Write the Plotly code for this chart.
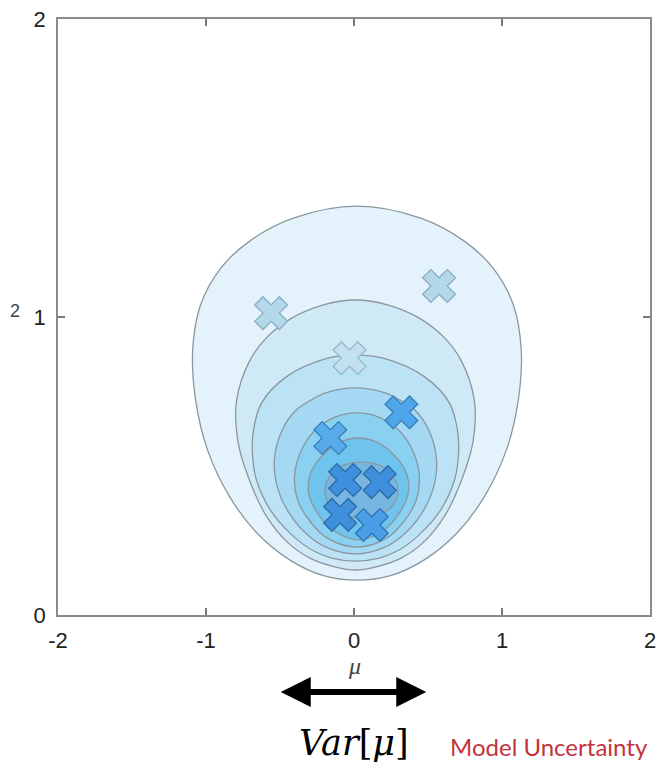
import plotly.graph_objects as go

# ---- contour outlines (mu centre, sigma^2 levels, half-widths) ----
c1_center = 0.02
c1_y  = [1.372, 1.332, 1.258, 1.164, 1.040, 0.889, 0.721, 0.554, 0.399, 0.275, 0.185, 0.131, 0.117]
c1_hw = [0.0,   0.430, 0.716, 0.920, 1.057, 1.110, 1.090, 1.010, 0.863, 0.676, 0.455, 0.221, 0.0]

c2_center = 0.01
c2_y  = [1.057, 1.040, 0.997, 0.930, 0.852, 0.721, 0.587, 0.460, 0.332, 0.242, 0.191, 0.161, 0.151]
c2_hw = [0.0,   0.221, 0.428, 0.602, 0.716, 0.803, 0.796, 0.722, 0.602, 0.455, 0.308, 0.134, 0.0]

c3_center = 0.01
c3_y  = [0.872, 0.862, 0.799, 0.711, 0.621, 0.537, 0.453, 0.352, 0.268, 0.218, 0.191, 0.181]
c3_hw = [0.0,   0.187, 0.468, 0.635, 0.689, 0.696, 0.669, 0.575, 0.428, 0.294, 0.161, 0.0]

c4_center = 0.01
c4_y  = [0.762, 0.745, 0.721, 0.688, 0.621, 0.520, 0.419, 0.336, 0.268, 0.225, 0.205]
c4_hw = [0.0,   0.201, 0.301, 0.401, 0.495, 0.548, 0.522, 0.441, 0.321, 0.187, 0.0]

c5_center = 0.02
c5_y  = [0.678, 0.664, 0.621, 0.554, 0.470, 0.386, 0.312, 0.258, 0.228]
c5_hw = [0.0,   0.147, 0.281, 0.375, 0.421, 0.401, 0.314, 0.201, 0.0]

c6_center = 0.03
c6_y  = [0.594, 0.581, 0.537, 0.470, 0.403, 0.336, 0.285, 0.252]
c6_hw = [0.0,   0.120, 0.241, 0.328, 0.334, 0.268, 0.174, 0.0]

c7_center = 0.05
c7_y  = [0.513, 0.500, 0.470, 0.419, 0.369, 0.339, 0.326]
c7_hw = [0.0,   0.134, 0.207, 0.247, 0.214, 0.134, 0.0]

contour_fills = ["#e4f2fb", "#d0e9f7", "#bce2f5", "#a4d8f3", "#8ad0f0", "#6fc4ee", "#78b6e2"]

# ---- samples (mu, sigma^2) ----
sample_mu     = [-0.56, 0.575, -0.03, 0.32, -0.16, -0.06, 0.174, -0.094, 0.12]
sample_sigma2 = [1.013, 1.104, 0.862, 0.68, 0.594, 0.453, 0.446, 0.336, 0.302]
sample_fill   = ["#b4d8ea", "#b4d8ea", "#c3e0ee", "#4fa6ea", "#58abeb",
                 "#3f90dc", "#3f90dc", "#3f90dc", "#4a9ee6"]
sample_edge   = ["#86aec4", "#86aec4", "#98b8c8", "#3a7fb8", "#3a7fb8",
                 "#2d6aa5", "#2d6aa5", "#2d6aa5", "#2f74b4"]

x_ticks = [-2, -1, 0, 1, 2]
y_ticks = [0, 1, 2]


def outline(center, ys, hws):
    # top -> right side downwards -> bottom -> left side upwards -> top
    xs = [center + h for h in hws] + [center - h for h in hws[::-1][1:]]
    yy = list(ys) + list(ys[::-1][1:])
    return xs, yy


fig = go.Figure()
contours = [(c1_center, c1_y, c1_hw), (c2_center, c2_y, c2_hw), (c3_center, c3_y, c3_hw),
            (c4_center, c4_y, c4_hw), (c5_center, c5_y, c5_hw), (c6_center, c6_y, c6_hw),
            (c7_center, c7_y, c7_hw)]
for (cx, ys, hws), col in zip(contours, contour_fills):
    xs, yy = outline(cx, ys, hws)
    fig.add_trace(go.Scatter(
        x=xs, y=yy, mode="lines", fill="toself", fillcolor=col,
        line=dict(color="#8a979f", width=1.3, shape="spline", smoothing=1.0),
        hoverinfo="skip", showlegend=False))

fig.add_trace(go.Scatter(
    x=sample_mu, y=sample_sigma2, mode="markers",
    marker=dict(symbol="x", size=29, color=sample_fill,
                line=dict(color=sample_edge, width=1.3)),
    showlegend=False))

axis_common = dict(showline=True, linecolor="#8a8a8a", linewidth=1.5, mirror="ticks",
                   ticks="inside", ticklen=7, tickwidth=1.5, tickcolor="#7a7a7a",
                   showgrid=False, zeroline=False,
                   tickfont=dict(family="Liberation Sans, Arial", size=22, color="#222222"))

fig.update_layout(
    width=663, height=773,
    margin=dict(l=58, r=7, t=19, b=158),
    paper_bgcolor="white", plot_bgcolor="white",
    showlegend=False,
    xaxis=dict(range=[-2, 2], tickvals=x_ticks, ticktext=[str(v) for v in x_ticks],
               ticklabelstandoff=5, **axis_common),
    yaxis=dict(range=[0, 2], tickvals=y_ticks, ticktext=[str(v) for v in y_ticks],
               ticklabelstandoff=6, **axis_common),
)

fig.add_annotation(xref="paper", yref="paper", x=0.5, y=-0.085, xanchor="center", yanchor="middle",
                   text="<i>μ</i>", showarrow=False,
                   font=dict(family="Liberation Serif", size=24, color="#444444"))
fig.add_annotation(xref="paper", yref="paper", x=0.622, y=-0.129, text="",
                   showarrow=True, ax=-147, ay=0, arrowhead=2, startarrowhead=2,
                   arrowside="end+start", arrowsize=1, startarrowsize=1,
                   arrowwidth=6, arrowcolor="black")
fig.add_annotation(xref="paper", yref="paper", x=0.5, y=-0.215, xanchor="center", yanchor="middle",
                   text="<i>Var</i>[<i>μ</i>]", showarrow=False,
                   font=dict(family="DejaVu Serif", size=35, color="black"))
fig.add_annotation(xref="paper", yref="paper", x=0.830, y=-0.221, xanchor="center", yanchor="middle",
                   text="Model Uncertainty", showarrow=False,
                   font=dict(family="Lato", size=24, color="#c4333c"))
fig.add_annotation(xref="paper", yref="paper", x=-0.072, y=0.51, xanchor="center", yanchor="middle",
                   text="2", showarrow=False,
                   font=dict(family="Liberation Sans", size=18, color="#444444"))

fig.write_html("out.html")
